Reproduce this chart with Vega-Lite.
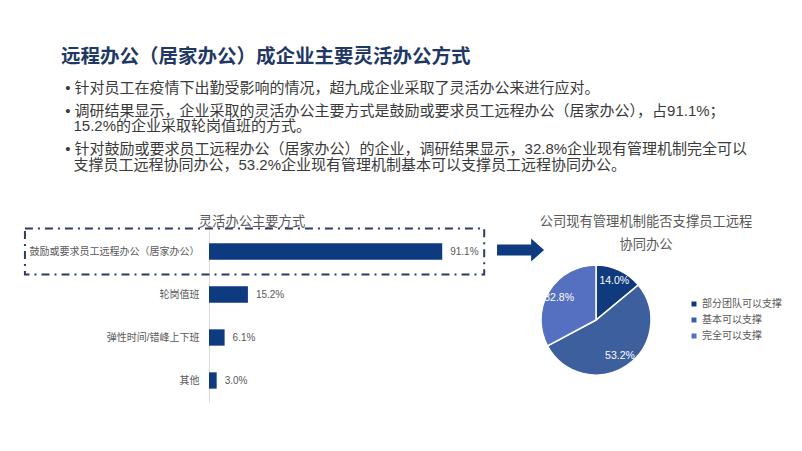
{
  "$schema": "https://vega.github.io/schema/vega-lite/v6.json",
  "background": "white",
  "autosize": {"type": "pad"},
  "padding": {"left": 23, "top": 47, "right": 10, "bottom": 10},
  "config": {
    "font": "Liberation Sans, Noto Sans CJK SC",
    "view": {"stroke": null}
  },
  "bounds": "flush",
  "spacing": 76,
  "resolve": {"legend": {"color": "independent"}},
  "title": {
    "text": "远程办公（居家办公）成企业主要灵活办公方式",
    "subtitle": [
      "\u200b\u00a0•\u00a0针对员工在疫情下出勤受影响的情况，超九成企业采取了灵活办公来进行应对。",
      "\u2800",
      "\u2800",
      "\u200b\u00a0•\u00a0调研结果显示，企业采取的灵活办公主要方式是鼓励或要求员工远程办公（居家办公），占91.1%；",
      "\u2800",
      "\u200b\u00a0\u00a0\u00a015.2%的企业采取轮岗值班的方式。",
      "\u2800",
      "\u2800",
      "\u200b\u00a0•\u00a0针对鼓励或要求员工远程办公（居家办公）的企业，调研结果显示，32.8%企业现有管理机制完全可以",
      "\u2800",
      "\u200b\u00a0\u00a0\u00a0支撑员工远程协同办公，53.2%企业现有管理机制基本可以支撑员工远程协同办公。"
    ],
    "anchor": "start",
    "frame": "group",
    "dx": -148,
    "font": "Liberation Sans, Noto Sans CJK SC",
    "fontSize": 19.5,
    "fontWeight": "bold",
    "color": "#1f3864",
    "subtitleFont": "Liberation Sans, Noto Sans CJK SC",
    "subtitleFontSize": 15,
    "subtitleColor": "#3a3a3a",
    "subtitleLineHeight": 7.7,
    "subtitlePadding": 13,
    "offset": 41
  },
  "hconcat": [
    {
      "width": 256,
      "height": 172,
      "title": {
        "text": "灵活办公主要方式",
        "fontSize": 13.3,
        "fontWeight": "normal",
        "color": "#595959",
        "anchor": "middle",
        "dx": -85,
        "offset": -1
      },
      "data": {
        "values": [
          {"方式": "鼓励或要求员工远程办公（居家办公）", "占比": 0.911},
          {"方式": "轮岗值班", "占比": 0.152},
          {"方式": "弹性时间/错峰上下班", "占比": 0.061},
          {"方式": "其他", "占比": 0.030}
        ]
      },
      "encoding": {
        "y": {
          "field": "方式",
          "type": "nominal",
          "sort": null,
          "scale": {"paddingInner": 0, "paddingOuter": 0},
          "axis": {
            "title": null,
            "ticks": false,
            "domain": true,
            "domainColor": "#d9d9d9",
            "labelPadding": 10,
            "labelFontSize": 10,
            "labelColor": "#595959",
            "labelLimit": 400,
            "grid": false
          }
        }
      },
      "layer": [
        {
          "mark": {"type": "bar", "color": "#0e3a80", "height": {"band": 0.38}},
          "encoding": {
            "x": {
              "field": "占比",
              "type": "quantitative",
              "scale": {"domain": [0, 1]},
              "axis": null
            }
          }
        },
        {
          "mark": {"type": "text", "align": "left", "dx": 8, "fontSize": 10, "color": "#595959"},
          "encoding": {
            "x": {"field": "占比", "type": "quantitative"},
            "text": {"field": "占比", "type": "quantitative", "format": ".1%"}
          }
        },
        {
          "data": {"values": [{}]},
          "mark": {
            "type": "bar",
            "filled": false,
            "stroke": "#2e3b63",
            "strokeWidth": 2,
            "strokeDash": [8, 5, 2, 5],
            "height": {"band": 1.07},
            "clip": false
          },
          "encoding": {
            "x": {"datum": -0.719},
            "x2": {"datum": 1.075},
            "y": {"datum": "鼓励或要求员工远程办公（居家办公）"}
          }
        },
        {
          "data": {"values": [{}]},
          "mark": {
            "type": "point",
            "shape": "M-1,-0.234L0.45,-0.234L0.45,-0.49L1,0L0.45,0.49L0.45,0.234L-1,0.234Z",
            "size": 2209,
            "filled": true,
            "color": "#0e3a80",
            "opacity": 1,
            "yOffset": -1.5
          },
          "encoding": {
            "x": {"datum": 1.217},
            "y": {"datum": "鼓励或要求员工远程办公（居家办公）"}
          }
        }
      ]
    },
    {
      "width": 110,
      "height": 180,
      "title": {
        "text": ["公司现有管理机制能否支撑员工远程", "协同办公"],
        "fontSize": 13.3,
        "lineHeight": 23,
        "fontWeight": "normal",
        "color": "#595959",
        "anchor": "middle",
        "dx": 50,
        "dy": 21,
        "offset": 0
      },
      "data": {
        "values": [
          {"类别": "部分团队可以支撑", "占比": 0.140, "序号": 1},
          {"类别": "基本可以支撑", "占比": 0.532, "序号": 2},
          {"类别": "完全可以支撑", "占比": 0.328, "序号": 3}
        ]
      },
      "encoding": {
        "theta": {"field": "占比", "type": "quantitative", "stack": true},
        "order": {"field": "序号", "type": "quantitative"}
      },
      "layer": [
        {
          "mark": {"type": "arc", "stroke": "white", "strokeWidth": 1.5},
          "encoding": {
            "color": {
              "field": "类别",
              "type": "nominal",
              "scale": {
                "domain": ["部分团队可以支撑", "基本可以支撑", "完全可以支撑"],
                "range": ["#0f3a7e", "#3e5f9e", "#5570c0"]
              },
              "legend": {
                "orient": "none",
                "legendX": 148,
                "legendY": 69,
                "title": null,
                "symbolType": "square",
                "symbolSize": 25,
                "symbolStrokeWidth": 0,
                "labelFontSize": 10,
                "labelColor": "#595959",
                "labelOffset": 3,
                "rowPadding": 6
              }
            }
          }
        },
        {
          "mark": {"type": "text", "radius": 43, "fontSize": 10.5, "color": "white"},
          "encoding": {
            "detail": {"field": "类别", "type": "nominal"},
            "text": {"field": "占比", "type": "quantitative", "format": ".1%"}
          }
        }
      ]
    }
  ]
}
